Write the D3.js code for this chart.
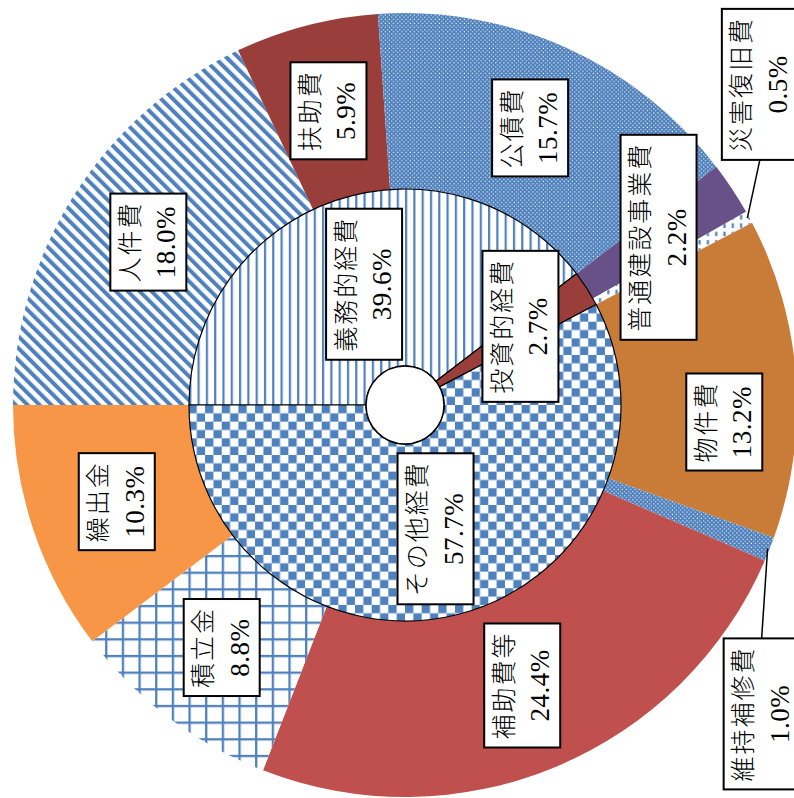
<!DOCTYPE html>
<html>
<head>
<meta charset="utf-8">
<script src="https://cdn.jsdelivr.net/npm/d3@7"></script>
<style>
  html, body { margin: 0; padding: 0; background: #fff; }
  svg { display: block; }
  .lbl text {
    font-family: "Liberation Serif", "Noto Sans CJK JP", serif;
    fill: #000;
  }
  .lbl .name { font-size: 25px; letter-spacing: 2px; font-weight: 300; }
  .lbl .pct  { font-size: 27px; letter-spacing: 0.5px; }
</style>
</head>
<body>
<svg id="chart" width="794" height="798"></svg>
<script>
// Inner ring: expenditure by nature (groups)
const groupNames  = ["義務的経費", "投資的経費", "その他経費"];
const groupValues = [39.6, 2.7, 57.7];

// Outer ring: expenditure items, in the same order around the ring
const itemNames  = ["人件費", "扶助費", "公債費", "普通建設事業費", "災害復旧費",
                    "物件費", "維持補修費", "補助費等", "積立金", "繰出金"];
const itemValues = [18.0, 5.9, 15.7, 2.2, 0.5, 13.2, 1.0, 24.4, 8.8, 10.3];

// ---- layout ----
const cx = 405, cy = 405;
const rHole = 39, rMid = 216, rOuter = 392;
const BLUE = "#4F81BD";

const itemFill = {
  "人件費": "url(#diag)", "扶助費": "#9A3E3C", "公債費": "url(#dots)",
  "普通建設事業費": "#685189", "災害復旧費": "url(#dash)", "物件費": "#C97B38",
  "維持補修費": "url(#dots)", "補助費等": "#C0504D", "積立金": "url(#grid)",
  "繰出金": "#F79646"
};
const groupFill = {
  "義務的経費": "url(#vlines)", "投資的経費": "#9A3E3C", "その他経費": "url(#checker)"
};

// labels that sit away from their slice centroid (dx, dy from centroid), some with a leader
const labelShift = {
  "物件費":     { dx: 16, dy: 38 },
  "災害復旧費": { dx: 88, dy: -175, leader: true },
  "維持補修費": { dx: 74, dy: 197, leader: true },
  "投資的経費": { dx: 8,  dy: -10 }
};

const svg = d3.select("#chart");
const defs = svg.append("defs");

// --- fill patterns ---
function pattern(id, size, transform) {
  const p = defs.append("pattern").attr("id", id)
    .attr("patternUnits", "userSpaceOnUse")
    .attr("width", size).attr("height", size);
  if (transform) p.attr("patternTransform", transform);
  return p;
}
{
  const s = 8.4;
  const p = pattern("diag", s, "rotate(-45)");
  p.append("rect").attr("width", s).attr("height", s).attr("fill", "#fff");
  p.append("rect").attr("width", 4.0).attr("height", s).attr("fill", BLUE);
}
{
  const p = pattern("vlines", 8.3);
  p.append("rect").attr("width", 8.3).attr("height", 8.3).attr("fill", "#fff");
  p.append("rect").attr("width", 2.2).attr("height", 8.3).attr("fill", BLUE);
}
{
  const s = 8.33;
  const p = pattern("checker", 2 * s);
  p.append("rect").attr("width", 2 * s).attr("height", 2 * s).attr("fill", "#fff");
  p.append("rect").attr("width", s).attr("height", s).attr("fill", BLUE);
  p.append("rect").attr("x", s).attr("y", s).attr("width", s).attr("height", s).attr("fill", BLUE);
}
{
  const s = 16.66;
  const p = pattern("grid", s);
  p.append("rect").attr("width", s).attr("height", s).attr("fill", "#fff");
  p.append("rect").attr("width", 2.3).attr("height", s).attr("fill", BLUE);
  p.append("rect").attr("width", s).attr("height", 2.3).attr("fill", BLUE);
}
{
  const p = pattern("dots", 4.16);
  p.append("rect").attr("width", 4.16).attr("height", 4.16).attr("fill", BLUE);
  p.append("rect").attr("x", 0.6).attr("y", 0.6).attr("width", 1.1).attr("height", 1.1).attr("fill", "#fff");
  p.append("rect").attr("x", 2.68).attr("y", 2.68).attr("width", 1.1).attr("height", 1.1).attr("fill", "#fff");
}
{
  const p = pattern("dash", 8.3);
  p.append("rect").attr("width", 8.3).attr("height", 8.3).attr("fill", "#fff");
  p.append("rect").attr("x", 3).attr("y", 1).attr("width", 2.2).attr("height", 4.5).attr("fill", BLUE);
}

// --- rings ---
const pie = d3.pie().sort(null)
  .startAngle(-Math.PI / 2).endAngle(1.5 * Math.PI)
  .value(d => d.value);

const items  = itemNames.map((name, i) => ({ name, value: itemValues[i] }));
const groups = groupNames.map((name, i) => ({ name, value: groupValues[i] }));

const outerArcs = pie(items);
const innerArcs = pie(groups);

const arcOuter = d3.arc().innerRadius(rMid).outerRadius(rOuter);
const arcInner = d3.arc().innerRadius(rHole).outerRadius(rMid);
const arcRim   = d3.arc().innerRadius(rOuter - 2).outerRadius(rOuter - 2);

const g = svg.append("g").attr("transform", `translate(${cx},${cy})`);

g.append("g").selectAll("path").data(outerArcs).join("path")
  .attr("d", arcOuter)
  .attr("fill", d => itemFill[d.data.name]);

g.append("g").selectAll("path").data(innerArcs).join("path")
  .attr("d", arcInner)
  .attr("fill", d => groupFill[d.data.name])
  .attr("stroke", "#000").attr("stroke-width", 1.2)
  .attr("stroke-linejoin", "round");

g.append("circle").attr("r", rHole)
  .attr("fill", "#fff").attr("stroke", "#000").attr("stroke-width", 1.5);

// --- labels ---
const lineGap = 18, boxThick = 76, pad = 8;
const labelLayer = svg.append("g");

function addLabel(arcDatum, arcGen, rimGen) {
  const name = arcDatum.data.name;
  const pct = d3.format(".1f")(arcDatum.data.value) + "%";
  const [px, py] = arcGen.centroid(arcDatum);
  const shift = labelShift[name] || { dx: 0, dy: 0 };
  const x = cx + px + shift.dx, y = cy + py + shift.dy;

  const lg = labelLayer.append("g").attr("class", "lbl")
    .attr("transform", `translate(${x},${y}) rotate(-90)`);
  const rect = lg.append("rect");
  const t1 = lg.append("text").attr("class", "name").attr("text-anchor", "middle")
    .attr("dominant-baseline", "central").attr("y", -lineGap).text(name);
  const t2 = lg.append("text").attr("class", "pct").attr("text-anchor", "middle")
    .attr("dominant-baseline", "central").attr("y", lineGap).text(pct);
  const len = Math.max(t1.node().getComputedTextLength(), t2.node().getComputedTextLength());
  const boxLen = len + 2 * pad;
  rect.attr("x", -boxLen / 2).attr("y", -boxThick / 2)
    .attr("width", boxLen).attr("height", boxThick)
    .attr("fill", "#fff").attr("stroke", "#000").attr("stroke-width", 2);

  if (shift.leader && rimGen) {
    const [rx, ry] = rimGen.centroid(arcDatum);
    const ex = cx + rx, ey = cy + ry;
    const sy = ey > y ? y + boxLen / 2 : y - boxLen / 2;
    labelLayer.insert("line", ":first-child")
      .attr("x1", x).attr("y1", sy).attr("x2", ex).attr("y2", ey)
      .attr("stroke", "#000").attr("stroke-width", 1.5);
  }
}

outerArcs.forEach(d => addLabel(d, arcOuter, arcRim));
innerArcs.forEach(d => addLabel(d, arcInner, null));
</script>
</body>
</html>
